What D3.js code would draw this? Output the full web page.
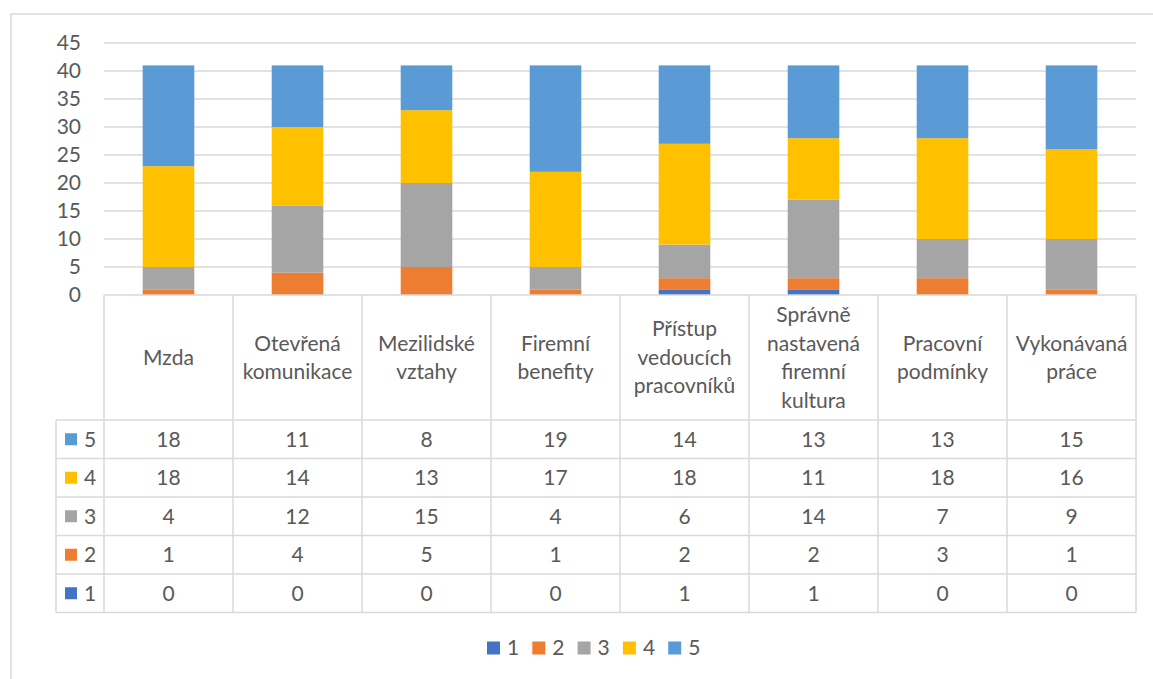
<!DOCTYPE html>
<html lang="cs">
<head>
<meta charset="UTF-8">
<script src="https://cdn.jsdelivr.net/npm/d3@7/dist/d3.min.js"></script>
<style>
  * { margin: 0; padding: 0; }
  body { background: #fff; width: 1153px; height: 679px; overflow: hidden; }
  svg { display: block; font-family: Lato, 'Open Sans', sans-serif; }
  text { fill: #595959; }
</style>
</head>
<body>
<svg width="1153" height="679"></svg>
<script>
// categories (each split into header lines)
const categories = [
  ['Mzda'],
  ['Otevřená', 'komunikace'],
  ['Mezilidské', 'vztahy'],
  ['Firemní', 'benefity'],
  ['Přístup', 'vedoucích', 'pracovníků'],
  ['Správně', 'nastavená', 'firemní', 'kultura'],
  ['Pracovní', 'podmínky'],
  ['Vykonávaná', 'práce']
];
const seriesNames = ['1', '2', '3', '4', '5'];
const s1 = [0, 0, 0, 0, 1, 1, 0, 0];
const s2 = [1, 4, 5, 1, 2, 2, 3, 1];
const s3 = [4, 12, 15, 4, 6, 14, 7, 9];
const s4 = [18, 14, 13, 17, 18, 11, 18, 16];
const s5 = [18, 11, 8, 19, 14, 13, 13, 15];
const yTicks = [0, 5, 10, 15, 20, 25, 30, 35, 40, 45];
const colors = ['#4472C4', '#ED7D31', '#A5A5A5', '#FFC000', '#5B9BD5'];

const series = [s1, s2, s3, s4, s5];
const svg = d3.select('svg');
const grid = '#d9d9d9';

// outer chart frame
svg.append('rect').attr('x', 11).attr('y', 14).attr('width', 1160).attr('height', 700)
  .attr('fill', 'none').attr('stroke', grid).attr('stroke-width', 1.5);

const x = d3.scaleBand().domain(d3.range(categories.length)).range([104, 1136]).padding(0);
const y = d3.scaleLinear().domain([0, 45]).range([295, 43]);

// gridlines
svg.append('g').selectAll('line').data(yTicks.filter(t => t > 0)).join('line')
  .attr('x1', 104).attr('x2', 1136)
  .attr('y1', d => y(d)).attr('y2', d => y(d))
  .attr('stroke', grid).attr('stroke-width', 1.3);

// y labels
svg.append('g').selectAll('text').data(yTicks).join('text')
  .attr('x', 81).attr('y', d => y(d)).attr('dy', '0.35em')
  .attr('text-anchor', 'end').attr('font-size', 21).text(d => d);

// stacked bars
const rows = categories.map((c, i) => {
  const o = { i };
  seriesNames.forEach((s, k) => o[s] = series[k][i]);
  return o;
});
const stacked = d3.stack().keys(seriesNames)(rows);
const bw = x.bandwidth() * 0.4;
svg.append('g').selectAll('g').data(stacked).join('g')
  .attr('fill', (d, k) => colors[k])
  .selectAll('rect').data(d => d).join('rect')
  .attr('x', d => x(d.data.i) + (x.bandwidth() - bw) / 2)
  .attr('width', bw)
  .attr('y', d => y(d[1]))
  .attr('height', d => y(d[0]) - y(d[1]));

// data table
const headTop = 295, headBottom = 420, rowH = 38.5;
const tableBottom = headBottom + rowH * seriesNames.length;
const tbl = svg.append('g').attr('stroke', grid).attr('stroke-width', 1.5);
// axis / header top
tbl.append('line').attr('x1', 104).attr('x2', 1136).attr('y1', headTop).attr('y2', headTop);
// horizontal row lines
d3.range(seriesNames.length + 1).forEach(r => {
  tbl.append('line').attr('x1', 56).attr('x2', 1136)
    .attr('y1', headBottom + r * rowH).attr('y2', headBottom + r * rowH);
});
// vertical lines
d3.range(categories.length + 1).forEach(c => {
  const xv = c === categories.length ? 1136 : x(c);
  tbl.append('line').attr('x1', xv).attr('x2', xv).attr('y1', headTop).attr('y2', tableBottom);
});
tbl.append('line').attr('x1', 56).attr('x2', 56).attr('y1', headBottom).attr('y2', tableBottom);

// header labels
const lh = 28.5;
categories.forEach((lines, i) => {
  const cx = x(i) + x.bandwidth() / 2;
  const cy = (headTop + headBottom) / 2;
  const t = svg.append('text').attr('text-anchor', 'middle').attr('font-size', 21);
  lines.forEach((ln, j) => {
    t.append('tspan').attr('x', cx)
      .attr('y', cy + (j - (lines.length - 1) / 2) * lh)
      .attr('dy', '0.35em').text(ln);
  });
});

// table rows: series 5 at top down to 1
const order = [4, 3, 2, 1, 0];
order.forEach((k, r) => {
  const cy = headBottom + r * rowH + rowH / 2;
  svg.append('rect').attr('x', 65).attr('y', cy - 6).attr('width', 12).attr('height', 12).attr('fill', colors[k]);
  svg.append('text').attr('x', 84).attr('y', cy).attr('dy', '0.35em').attr('font-size', 21).text(seriesNames[k]);
  series[k].forEach((v, i) => {
    svg.append('text').attr('x', x(i) + x.bandwidth() / 2).attr('y', cy).attr('dy', '0.35em')
      .attr('text-anchor', 'middle').attr('font-size', 21).text(v);
  });
});

// legend
const lg = svg.append('g').selectAll('g').data(seriesNames).join('g')
  .attr('transform', (d, k) => `translate(${487 + k * 45.3},648)`);
lg.append('rect').attr('x', 0).attr('y', -6.5).attr('width', 13).attr('height', 13).attr('fill', (d, k) => colors[k]);
lg.append('text').attr('x', 20).attr('y', 0).attr('dy', '0.35em').attr('font-size', 21).text(d => d);
</script>
</body>
</html>
